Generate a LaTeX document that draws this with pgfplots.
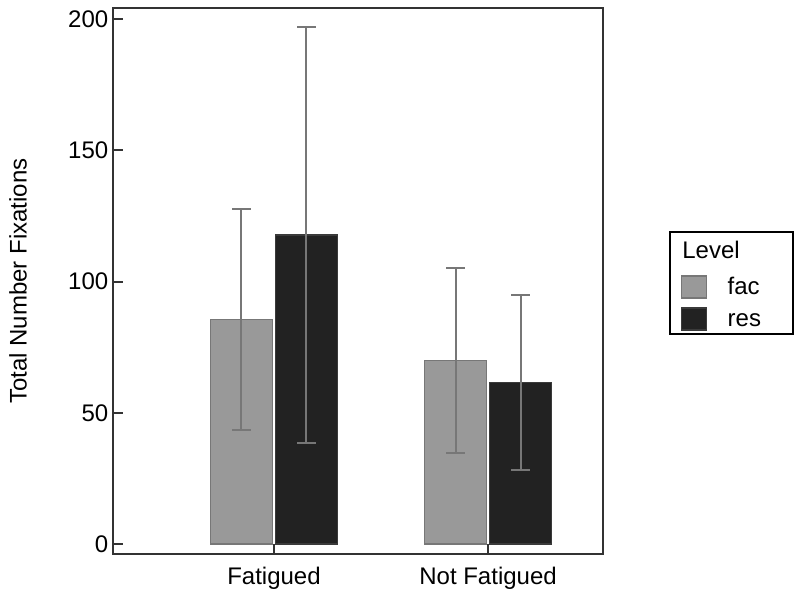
\documentclass[border=0pt]{standalone}
\usepackage{fontspec}
\setmainfont{Liberation Sans}
\usepackage{pgfplots}
\pgfplotsset{compat=1.18}
\definecolor{facfill}{HTML}{999999}
\definecolor{facedge}{HTML}{777777}
\definecolor{resfill}{HTML}{222222}
\definecolor{resedge}{HTML}{3A3A3A}
\definecolor{errcol}{HTML}{777777}
\definecolor{axcol}{HTML}{333333}
\newcommand{\chartfont}{\fontsize{18}{21}\selectfont}

\begin{document}
\begin{tikzpicture}
\begin{axis}[
  scale only axis, width=367.5pt, height=409.5pt,
  /pgf/number format/assume math mode=true,
  every tick label/.append style={font=\chartfont},
  label style={font=\chartfont},
  ybar=2.25pt, bar width=46.5pt,
  xmin=-0.752, xmax=1.537, ymin=-3.8, ymax=204.2,
  xtick={0,1}, xticklabels={Fatigued, Not Fatigued},
  ytick={0,50,100,150,200},
  tick align=inside, xtick pos=bottom, ytick pos=left,
  major tick length=7.5pt,
  tick style={axcol, line width=1.5pt},
  axis line style={axcol, line width=1.8pt},
  yticklabel style={xshift=0pt},
  xticklabel style={yshift=-6pt},
  ylabel={Total Number Fixations},
  ylabel style={at={(axis description cs:-0.194,0.5)}, anchor=center},
  legend style={at={(axis description cs:1.1347,0.5916)}, anchor=north west,
    draw=black, line width=1.5pt, inner xsep=8pt, inner ysep=2pt,
    row sep=0pt, font=\chartfont,
    cells={anchor=west}},
  legend image code/.code={\draw[#1, line width=1pt] (0pt,-11.25pt) rectangle (18.75pt,5.25pt);},
  legend cell align=left,
  error bars/error bar style={errcol, line width=1.5pt},
  error bars/error mark options={errcol, rotate=90, mark size=7pt, line width=1.5pt},
]
\addlegendimage{legend image code/.code={\node[overlay, anchor=west, inner sep=0pt] at (0pt,0pt) {Level};}}
\addlegendentry{\rule{0pt}{18.65pt}}
\addplot[fill=facfill, draw=facedge, line width=1pt,
  error bars/.cd, y dir=both, y explicit]
  coordinates {(0,85.6) +- (0,42.1) (1,70.0) +- (0,35.3)};
\addlegendentry{\rule[-6.1pt]{0pt}{24.75pt}\hspace{13.5pt}\makebox[39pt][l]{fac}}
\addplot[fill=resfill, draw=resedge, line width=1pt,
  error bars/.cd, y dir=both, y explicit]
  coordinates {(0,117.7) +- (0,79.2) (1,61.5) +- (0,33.4)};
\addlegendentry{\rule[-15pt]{0pt}{33.65pt}\hspace{13.5pt}\makebox[39pt][l]{res}}
\end{axis}
\pgfresetboundingbox
\path[use as bounding box] ([shift={(-84.75pt,-33pt)}]current axis.south west)
  rectangle ([shift={(147.75pt,6pt)}]current axis.north east);
\end{tikzpicture}
\end{document}
